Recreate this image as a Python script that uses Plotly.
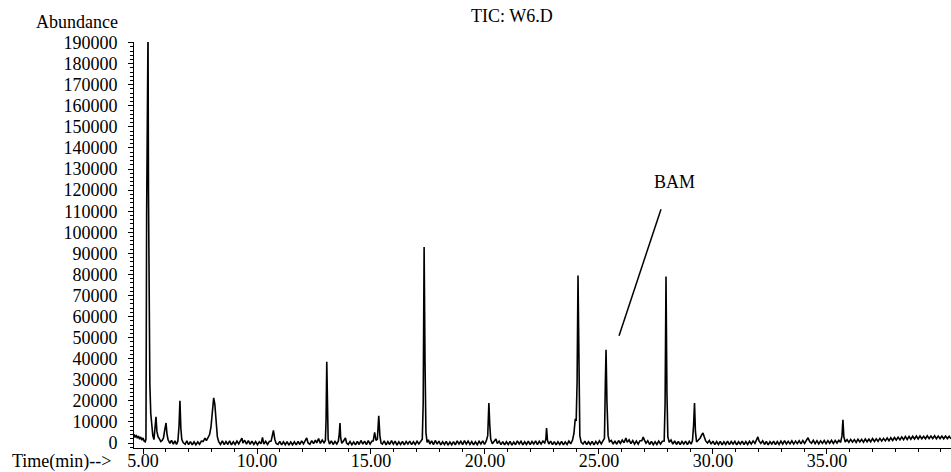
import plotly.graph_objects as go

# ---- data (time in min, abundance in counts) ----
t1 = [4.60, 4.65, 4.70, 4.75, 4.80, 4.85, 4.90, 4.95, 5.00, 5.05,
      5.10, 5.13, 5.16, 5.19, 5.22, 5.24, 5.27, 5.30, 5.34, 5.38,
      5.43, 5.48, 5.52, 5.57, 5.61, 5.66, 5.72, 5.78, 5.84, 5.90,
      5.95, 6.01, 6.05, 6.10, 6.18, 6.25, 6.33, 6.40, 6.47, 6.53,
      6.58, 6.62, 6.66, 6.70, 6.76, 6.85, 6.92, 7.00, 7.08, 7.16,
      7.24, 7.32, 7.40, 7.48, 7.56, 7.64, 7.72, 7.78, 7.85, 7.92,
      7.98, 8.04, 8.10, 8.15, 8.20, 8.26, 8.32, 8.40]
v1 = [4200, 2600, 3800, 2300, 3300, 1800, 2900, 1300, 2400, 900,
      600, 2000, 110000, 196000, 196000, 120000, 50000, 28000, 14000, 7000,
      3500, 1600, 7000, 12400, 5500, 3000, 2000, 700, 1200, 2500,
      6000, 9500, 4500, 1500, -200, 1200, -500, 1000, -700, 900,
      8000, 20000, 7000, 1800, 200, -600, 1000, -800, 700, -900,
      600, -800, 500, -600, 900, 800, 2300, 1100, 2500, 4000,
      7500, 13500, 21400, 18500, 8500, 3000, 600, -700]

t2 = [8.48, 8.56, 8.64, 8.72, 8.80, 8.88, 8.96, 9.04, 9.12, 9.20,
      9.28, 9.34, 9.38, 9.46, 9.54, 9.62, 9.70, 9.78, 9.86, 9.94,
      10.02, 10.10, 10.18, 10.24, 10.30, 10.38, 10.46, 10.54, 10.62, 10.68,
      10.72, 10.78, 10.84, 10.92, 11.00, 11.08, 11.16, 11.24, 11.32, 11.40,
      11.48, 11.56, 11.64, 11.72, 11.80, 11.88, 11.96, 12.04, 12.12, 12.18,
      12.24, 12.32, 12.40, 12.48, 12.56, 12.62, 12.70, 12.78, 12.86, 12.94,
      13.00, 13.03, 13.06, 13.09, 13.12, 13.18, 13.26, 13.34, 13.42, 13.50,
      13.57, 13.61, 13.64, 13.67, 13.72, 13.80, 13.88, 13.93]
v2 = [1000, -800, 700, -700, 1000, -900, 600, -700, 900, -400,
      1200, 2300, 0, 1300, -500, 1100, -600, 900, -700, 700,
      -800, 600, -400, 2600, -500, 800, -700, 700, 900, 5000,
      6000, 1800, -200, -700, 800, -900, 600, -800, 700, -1000,
      500, -800, 600, -900, 800, -700, 1000, -400, 1100, 2400,
      0, -600, 1100, -300, 1400, 0, 2100, -200, 1400, 100,
      1200, 11000, 38500, 13000, 1800, -500, 1000, -700, 700, -500,
      1000, 4500, 9500, 2500, -200, 1100, 2400, 0]

t3 = [14.00, 14.08, 14.16, 14.24, 14.32, 14.40, 14.48, 14.56, 14.64, 14.72,
      14.80, 14.88, 14.96, 15.04, 15.10, 15.16, 15.22, 15.28, 15.34, 15.39,
      15.44, 15.50, 15.58, 15.66, 15.74, 15.82, 15.90, 15.98, 16.06, 16.14,
      16.22, 16.30, 16.38, 16.46, 16.54, 16.62, 16.70, 16.78, 16.86, 16.94,
      17.02, 17.10, 17.18, 17.25, 17.29, 17.33, 17.37, 17.41, 17.46, 17.52,
      17.58, 17.66, 17.74, 17.82, 17.90, 17.98, 18.06, 18.14, 18.22, 18.30,
      18.38, 18.46, 18.54, 18.62, 18.70, 18.78, 18.86, 18.94, 19.02, 19.10,
      19.18, 19.26, 19.34, 19.42, 19.50, 19.58, 19.66, 19.74, 19.82, 19.90,
      19.98, 20.06, 20.12, 20.17, 20.21, 20.25]
v3 = [-700, 700, -800, 500, -900, 800, -700, 1200, -500, 900,
      -800, 1100, -500, 900, 1000, 5000, 1200, 1800, 12900, 3500,
      0, -500, 1000, -900, 700, -700, 1100, -500, 900, -1000,
      600, -700, 800, -900, 700, -500, 900, -800, 600, -700,
      800, -400, 1000, 1800, 19000, 93000, 38000, 5000, 300, 1500,
      -500, 1000, -800, 1200, -500, 900, -900, 600, -700, 800,
      -1000, 500, -800, 700, -900, 1000, -500, 800, -800, 1100,
      -500, 900, -700, 700, -900, 600, -800, 800, -500, 1000,
      -700, 1100, 3500, 19000, 8500, 1800]

t4 = [20.32, 20.40, 20.48, 20.54, 20.62, 20.70, 20.78, 20.86, 20.94, 21.02,
      21.10, 21.18, 21.26, 21.34, 21.42, 21.50, 21.58, 21.66, 21.74, 21.82,
      21.90, 21.98, 22.06, 22.14, 22.22, 22.30, 22.38, 22.46, 22.54, 22.62,
      22.67, 22.70, 22.74, 22.80, 22.88, 22.96, 23.04, 23.12, 23.20, 23.28,
      23.36, 23.44, 23.52, 23.60, 23.68, 23.76, 23.84, 23.90, 23.96, 24.00,
      24.04, 24.08, 24.12, 24.16, 24.22, 24.30, 24.38, 24.46, 24.54, 24.62,
      24.70, 24.78, 24.86, 24.94, 25.02, 25.10, 25.18, 25.24, 25.28, 25.31,
      25.35, 25.40, 25.46]
v4 = [-300, 1000, 1900, -200, 900, -800, 700, -900, 600, -700,
      800, -1000, 500, -800, 1000, -500, 800, -900, 600, -700,
      900, -800, 700, -500, 1000, -800, 800, -500, 900, 0,
      1800, 7100, 1300, -500, 900, -800, 700, -900, 600, -700,
      800, -900, 500, -700, 900, -400, 1400, 4500, 11500, 10500,
      29000, 79500, 29000, 3500, 300, -500, 900, -800, 600, -700,
      800, -900, 700, -500, 1000, -400, 1100, 2200, 29000, 44300,
      19000, 3500, 600]

t5 = [25.54, 25.62, 25.70, 25.78, 25.86, 25.94, 26.02, 26.10, 26.18, 26.24,
      26.32, 26.40, 26.48, 26.56, 26.64, 26.72, 26.80, 26.88, 26.94, 27.00,
      27.06, 27.14, 27.22, 27.30, 27.38, 27.46, 27.54, 27.62, 27.70, 27.78,
      27.86, 27.90, 27.94, 27.98, 28.02, 28.08, 28.16, 28.24, 28.32, 28.40,
      28.48, 28.56, 28.64, 28.72, 28.80, 28.88, 28.96, 29.04, 29.10, 29.15,
      29.19, 29.23, 29.28, 29.36, 29.44, 29.50, 29.56, 29.62, 29.68, 29.76,
      29.84, 29.92, 30.00, 30.08, 30.16, 30.24, 30.32, 30.40, 30.48, 30.56,
      30.64, 30.72, 30.80, 30.88, 30.96]
v5 = [1200, -500, 1000, -600, 1200, -200, 1400, 100, 2400, 300,
      1500, -300, 1100, -500, 900, -500, 1100, 1100, 2800, 1200,
      -100, 1100, -700, 800, -800, 600, -700, 900, -500, 800,
      900, 19000, 79000, 24000, 3000, 300, 1400, -500, 1000, -700,
      800, -800, 700, -500, 900, -800, 800, -500, 1000, 8500,
      19000, 5500, 500, 1400, 2400, 3700, 4800, 2800, 1000, 0,
      1200, -500, 900, -800, 700, -700, 800, -900, 600, -700,
      900, -800, 700, -500, 800]

t6 = [31.04, 31.12, 31.20, 31.28, 31.36, 31.44, 31.52, 31.60, 31.68, 31.76,
      31.84, 31.92, 31.97, 32.02, 32.10, 32.18, 32.26, 32.34, 32.42, 32.50,
      32.58, 32.66, 32.74, 32.82, 32.90, 32.98, 33.06, 33.14, 33.22, 33.30,
      33.38, 33.46, 33.54, 33.62, 33.70, 33.78, 33.86, 33.94, 34.02, 34.10,
      34.17, 34.24, 34.32, 34.40, 34.48, 34.56, 34.64, 34.72, 34.80, 34.88,
      34.96, 35.04, 35.12, 35.20, 35.28, 35.36, 35.44, 35.52, 35.60, 35.66,
      35.70, 35.74, 35.80, 35.88, 35.96, 36.04, 36.12, 36.20, 36.28, 36.36,
      36.44, 36.52, 36.60, 36.68, 36.76, 36.84, 36.92, 37.00, 37.08, 37.16,
      37.24, 37.32, 37.40, 37.48, 37.56, 37.64, 37.72, 37.80, 37.88, 37.96,
      38.04, 38.12, 38.20, 38.28, 38.36, 38.44, 38.52, 38.60, 38.68, 38.76,
      38.84, 38.92, 39.00, 39.08, 39.16, 39.24, 39.32, 39.40, 39.48, 39.56,
      39.64, 39.72, 39.80, 39.88, 39.96, 40.04, 40.12, 40.20, 40.28, 40.36,
      40.44]
v6 = [-900, 600, -500, 900, -800, 700, -700, 800, -500, 1000,
      -200, 1400, 2900, 1000, -200, 1000, -700, 800, -900, 600,
      -500, 900, -800, 700, -700, 900, -500, 1100, -500, 800,
      -400, 1000, -500, 900, -300, 1100, -400, 1200, -200, 1300,
      2500, 700, -100, 1300, -300, 1100, -400, 1000, -200, 1200,
      -300, 1100, -100, 1300, -200, 1200, 0, 1300, 300, 3500,
      11000, 3000, 500, 1600, 300, 1700, 400, 1600, 300, 1800,
      500, 1700, 400, 1900, 600, 1800, 600, 2100, 700, 2000,
      800, 2200, 900, 2200, 1000, 2400, 1100, 2500, 1200, 2600,
      1400, 2800, 1500, 2900, 1600, 3100, 1700, 3100, 1800, 3200,
      1900, 3300, 1900, 3300, 2000, 3200, 2000, 3400, 2100, 3300,
      2100, 3400, 2000, 3300, 2100, 3300, 2000, 3300, 2100, 3200,
      2000]

x_tick_vals = [5, 10, 15, 20, 25, 30, 35]
y_tick_vals = [0, 10000, 20000, 30000, 40000, 50000, 60000, 70000, 80000, 90000,
               100000, 110000, 120000, 130000, 140000, 150000, 160000, 170000,
               180000, 190000]

time_min = t1 + t2 + t3 + t4 + t5 + t6
abundance = v1 + v2 + v3 + v4 + v5 + v6

FONT = "Liberation Serif"
X_RANGE = [4.605, 40.44]
Y_RANGE = [-2370, 190300]

fig = go.Figure()
fig.add_trace(go.Scatter(
    x=time_min, y=abundance, mode="lines",
    line=dict(color="black", width=1.6),
    hoverinfo="skip", showlegend=False,
))

fig.update_layout(
    width=951, height=472,
    margin=dict(l=134, r=0, t=42, b=24, pad=0, autoexpand=False),
    paper_bgcolor="white", plot_bgcolor="white",
    showlegend=False,
    font=dict(family=FONT, size=18, color="black"),
    xaxis=dict(
        range=X_RANGE, tickmode="array", tickvals=x_tick_vals, tickformat=".2f",
        ticks="outside", ticklen=5, tickwidth=1, tickcolor="black",
        showline=True, linecolor="black", linewidth=1, automargin=False,
        showgrid=False, zeroline=False, ticklabelstandoff=-9,
        minor=dict(ticks="outside", ticklen=3, tickcolor="black", dtick=1, tick0=0, showgrid=False),
        tickfont=dict(family=FONT, size=18, color="black"),
    ),
    yaxis=dict(
        range=Y_RANGE, tickmode="array", tickvals=y_tick_vals, tickformat="d",
        ticks="outside", ticklen=5, tickwidth=1, tickcolor="black",
        showline=True, linecolor="black", linewidth=1, automargin=False,
        showgrid=False, zeroline=False, ticklabelstandoff=7,
        minor=dict(ticks="outside", ticklen=3, tickcolor="black", dtick=2000, tick0=0, showgrid=False),
        tickfont=dict(family=FONT, size=18, color="black"),
    ),
)

fig.add_annotation(text="Abundance", xref="paper", yref="paper",
                   x=-0.0171, y=1.0493, xanchor="right", yanchor="middle",
                   showarrow=False, font=dict(family=FONT, size=18, color="black"))
fig.add_annotation(text="TIC: W6.D", xref="paper", yref="paper",
                   x=0.4627, y=1.064, xanchor="center", yanchor="middle",
                   showarrow=False, font=dict(family=FONT, size=18, color="black"))
fig.add_annotation(text="Time(min)-->", xref="paper", yref="paper",
                   x=-0.0257, y=-0.0325, xanchor="right", yanchor="middle",
                   showarrow=False, font=dict(family=FONT, size=18, color="black"))
fig.add_annotation(text="BAM", xref="x", yref="y",
                   x=28.3, y=123800, xanchor="center", yanchor="middle",
                   showarrow=False, font=dict(family=FONT, size=18, color="black"))
fig.add_shape(type="line", xref="x", yref="y",
              x0=27.72, y0=110950, x1=25.88, y1=50950,
              line=dict(color="black", width=1.5))

fig.write_html("out.html", config={"displayModeBar": False},
               post_script="document.body.style.margin='0px';")
